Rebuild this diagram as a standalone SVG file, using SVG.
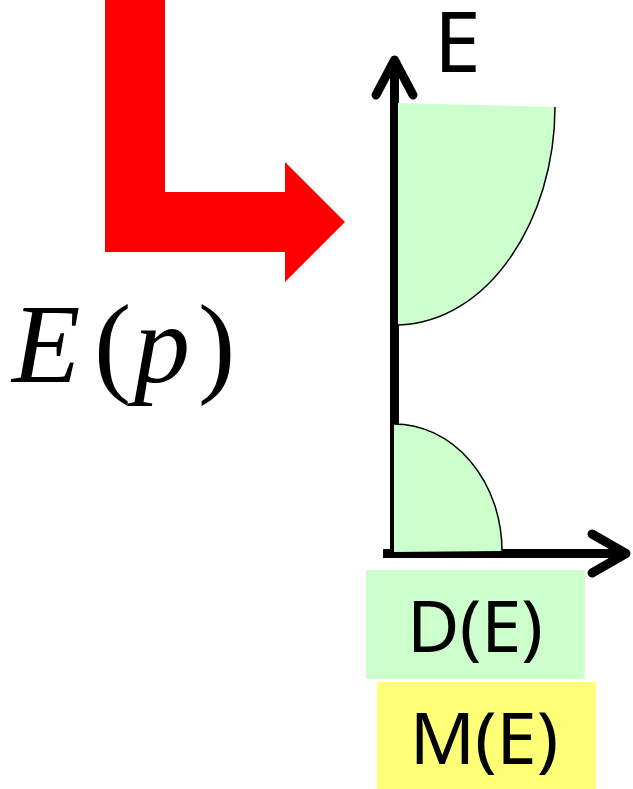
<svg xmlns="http://www.w3.org/2000/svg" width="633" height="789" viewBox="0 0 633 789">
<style>
.lbl{font-family:"Noto Sans","Open Sans","DejaVu Sans",sans-serif;fill:#000}
.axis{stroke:#000;stroke-width:9;fill:none}
.head{stroke:#000;stroke-width:9;fill:none;stroke-linecap:round;stroke-linejoin:round}
.math{font-family:"Liberation Serif","Times New Roman",serif;font-size:112px;fill:#000}
.it{font-style:italic}
</style>
<rect width="633" height="789" fill="#fff"/>
<g id="red-arrow">
<polygon points="105,0 165,0 165,192 285,192 285,162 345,222 285,282 285,252 105,252" fill="#ff0000"/>
</g>
<g id="Ep">
<text class="math it" x="12" y="382">E</text>
<text class="math" x="94" y="382">(</text>
<text class="math it" x="134" y="382">p</text>
<text class="math" x="198" y="382">)</text>
</g>
<g id="connectors">
<line class="axis" x1="394.5" y1="60" x2="394.5" y2="558"/>
<line class="axis" x1="383" y1="553.5" x2="625" y2="553.5"/>
<polyline class="head" points="376,95 394.5,60 413,95"/>
<polyline class="head" points="592,534 626,553.5 592,573"/>
</g>
<g id="upper-band">
<path d="M398,103 L555,107 C555,220 488,323 398,325 Z" fill="#ccffcc"/>
<path d="M555,107 C555,220 488,323 398,325" fill="none" stroke="#000" stroke-width="1.5"/>
</g>
<g id="lower-band">
<path d="M394,424 A108,127 0 0 1 502,551 L394,552 Z" fill="#ccffcc"/>
<path d="M394,424 A108,127 0 0 1 502,551" fill="none" stroke="#000" stroke-width="1.5"/>
</g>
<g id="E-label">
<text class="lbl" x="434" y="72" font-size="84">E</text>
</g>
<g id="DE">
<rect x="366" y="570" width="219" height="109" fill="#ccffcc"/>
<text class="lbl" x="475" y="652" font-size="72" text-anchor="middle">D(E)</text>
</g>
<g id="ME">
<rect x="377" y="682" width="219" height="107" fill="#ffff77"/>
<text class="lbl" x="484" y="764" font-size="72" text-anchor="middle">M(E)</text>
</g>
</svg>
